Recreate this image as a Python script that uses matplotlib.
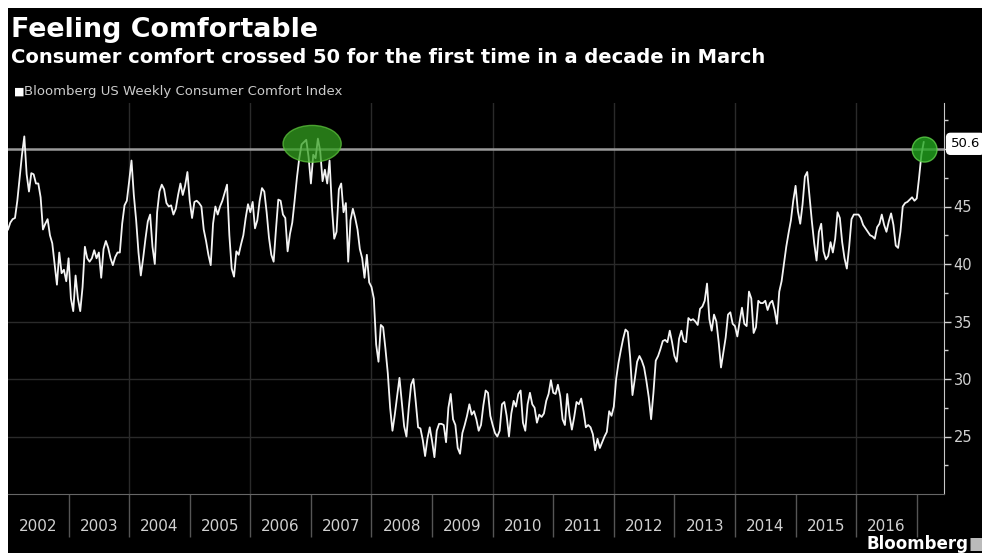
import numpy as np
import matplotlib
matplotlib.use('Agg')
import matplotlib.pyplot as plt
import matplotlib.transforms as mtransforms
from matplotlib.patches import Ellipse, Rectangle

# Bloomberg US Weekly Consumer Comfort Index, read every two weeks (26 per year) from Jan 2002
comfort = [
    # 2002
    43.0, 43.6, 43.9, 44.0, 45.5, 47.5, 49.5, 51.1, 47.8, 46.3, 47.9, 47.8, 47.0,
    47.0, 45.8, 43.0, 43.5, 43.9, 42.5, 41.8, 40.0, 38.2, 41.0, 39.2, 39.5, 38.5,
    # 2003
    40.5, 37.0, 35.9, 39.0, 37.0, 35.9, 38.0, 41.5, 40.5, 40.2, 40.5, 41.2, 40.5,
    41.0, 38.8, 41.3, 42.0, 41.4, 40.5, 39.9, 40.6, 41.0, 41.0, 43.5, 45.1, 45.5,
    # 2004
    47.2, 49.0, 46.0, 43.8, 41.0, 39.0, 40.5, 42.2, 43.7, 44.3, 41.5, 40.0, 44.5,
    46.3, 46.9, 46.5, 45.3, 45.0, 45.1, 44.3, 44.8, 46.0, 47.0, 46.0, 46.8, 48.0,
    # 2005
    45.5, 44.0, 45.4, 45.5, 45.3, 45.0, 43.0, 42.0, 40.8, 39.9, 43.5, 45.0, 44.3,
    45.0, 45.5, 46.2, 46.9, 42.5, 39.6, 38.9, 41.1, 40.8, 41.7, 42.5, 44.0, 45.2,
    # 2006
    44.5, 45.4, 43.1, 43.8, 45.5, 46.6, 46.3, 44.5, 42.3, 40.8, 40.2, 43.0, 45.6,
    45.5, 44.3, 44.0, 41.1, 42.6, 43.6, 45.5, 47.5, 49.2, 50.4, 50.6, 50.8, 49.3,
    # 2007
    47.0, 49.5, 49.2, 50.9, 49.8, 47.2, 48.2, 47.0, 49.0, 45.0, 42.2, 42.8, 46.5,
    47.0, 44.5, 45.3, 40.2, 43.8, 44.8, 44.0, 43.0, 41.3, 40.5, 38.8, 40.8, 38.4,
    # 2008
    38.0, 37.0, 33.0, 31.5, 34.7, 34.5, 32.6, 30.5, 27.5, 25.5, 26.9, 28.5, 30.1,
    28.0, 25.9, 25.0, 27.5, 29.5, 30.0, 28.0, 25.8, 25.7, 24.7, 23.3, 24.8, 25.8,
    # 2009
    24.6, 23.2, 25.5, 26.1, 26.1, 26.0, 24.5, 27.5, 28.7, 26.5, 26.0, 24.0, 23.5,
    25.3, 26.0, 26.8, 27.8, 26.9, 27.2, 26.5, 25.5, 26.0, 27.7, 29.0, 28.8, 26.8,
    # 2010
    26.0, 25.3, 25.0, 25.5, 27.8, 28.0, 26.8, 25.0, 27.0, 28.1, 27.6, 28.7, 29.0,
    26.2, 25.5, 27.8, 28.8, 27.8, 27.5, 26.2, 26.9, 26.7, 27.0, 28.1, 28.7, 29.9,
    # 2011
    28.8, 28.7, 29.5, 28.5, 26.5, 26.0, 28.7, 26.8, 25.6, 26.7, 28.0, 27.8, 28.3,
    27.2, 25.8, 26.0, 25.8, 25.2, 23.8, 24.8, 24.0, 24.5, 25.0, 25.4, 27.2, 26.8,
    # 2012
    27.6, 30.0, 31.4, 32.5, 33.5, 34.3, 34.1, 31.9, 28.6, 30.0, 31.5, 32.0, 31.6,
    31.0, 29.8, 28.4, 26.5, 28.8, 31.6, 32.0, 32.6, 33.3, 33.4, 33.2, 34.2, 33.2,
    # 2013
    32.0, 31.5, 33.5, 34.2, 33.3, 33.2, 35.3, 35.1, 35.2, 35.0, 34.7, 36.1, 36.3,
    36.8, 38.3, 35.2, 34.2, 35.6, 35.0, 33.2, 31.0, 32.3, 33.6, 35.6, 35.8, 34.8,
    # 2014
    34.6, 33.7, 35.0, 36.2, 34.8, 34.6, 37.6, 37.0, 34.0, 34.5, 36.8, 36.6, 36.6,
    36.8, 36.0, 36.6, 36.8, 36.0, 34.8, 37.6, 38.5, 40.0, 41.5, 42.7, 43.8, 45.5,
    # 2015
    46.8, 44.6, 43.5, 45.2, 47.6, 48.0, 45.8, 43.7, 41.8, 40.3, 42.8, 43.5, 41.1,
    40.4, 40.7, 41.9, 41.0, 42.2, 44.5, 44.0, 41.9, 40.5, 39.6, 41.5, 43.9, 44.3,
    # 2016
    44.3, 44.3, 44.0, 43.4, 43.1, 42.8, 42.5, 42.4, 42.2, 43.2, 43.5, 44.3, 43.4,
    42.8, 43.7, 44.4, 43.4, 41.6, 41.4, 42.8, 45.0, 45.3, 45.4, 45.6, 45.8, 45.5,
    # 2017
    45.7, 47.5, 49.5, 50.6,
]
years = list(range(2002, 2017))
year_labels = [str(y) for y in years]
y_ticks = [25, 30, 35, 40, 45, 50]
y_labels = ['25', '30', '35', '40', '45', '']  # 50 sits under the last-value tag
last_value = comfort[-1]

x = 2002 + np.arange(len(comfort)) / 26.0

W, H = 982, 553
fig = plt.figure(figsize=(W / 100, H / 100), dpi=100, facecolor='white')
fig.patches.append(Rectangle((8 / W, 0), 1 - 8 / W, 1 - 8 / H, transform=fig.transFigure,
                             facecolor='black', edgecolor='none', zorder=-10))

ax = fig.add_axes([8 / W, 1 - 494 / H, (944 - 8) / W, (494 - 103) / H])
ax.set_facecolor('black')
ax.set_xlim(2002, 2017.45)
ax.set_ylim(20, 54)

# grid
for yv in y_ticks[:-1]:
    ax.axhline(yv, color='#2a2a2a', lw=1, zorder=1)
for yr in range(2004, 2017, 2):
    ax.axvline(yr, color='#2a2a2a', lw=1, zorder=1)
ax.axhline(50, color='#9a9a9a', lw=1.8, zorder=2)

ax.plot(x, comfort, color='#f4f4f4', lw=1.3, zorder=3)

# green highlights
ax.add_patch(Ellipse((2007.02, 50.45), 0.96, 3.2, facecolor='#34a020', edgecolor='#5cc23c',
                     lw=1, alpha=0.75, zorder=4))
ax.add_patch(Ellipse((2017.13, 49.95), 0.41, 2.17, facecolor='#22a51f', edgecolor='#5fd04a',
                     lw=1, alpha=0.8, zorder=4))

# right y axis
ax.yaxis.tick_right()
ax.set_yticks(y_ticks)
ax.set_yticklabels(y_labels)
ax.set_yticks(np.arange(22.5, 54, 5), minor=True)
ax.tick_params(axis='y', which='major', colors='#d0d0d0', length=5, width=1, pad=2, labelsize=10.5)
ax.tick_params(axis='y', which='minor', colors='#d0d0d0', length=3, width=1)

# x axis: year labels between separators
ax.set_xticks([y + 0.5 for y in years])
ax.set_xticklabels(year_labels)
ax.set_xticks(range(2003, 2018), minor=True)
ax.tick_params(axis='x', which='major', length=0, pad=18, colors='#d0d0d0', labelsize=11)
ax.tick_params(axis='x', which='minor', length=31, width=1, color='#555555')

for side in ['top', 'left']:
    ax.spines[side].set_visible(False)
ax.spines['bottom'].set_color('#666666')
ax.spines['right'].set_color('#c8c8c8')

# last value tag
trans = mtransforms.blended_transform_factory(ax.transAxes, ax.transData)
ax.text(1.007, last_value - 0.15, f'{last_value:.1f}', transform=trans, ha='left', va='center',
        fontsize=9.5, color='black', clip_on=False, zorder=10,
        bbox=dict(boxstyle='round,pad=0.3', facecolor='white', edgecolor='white'))

# titles
fig.text(11 / W, 1 - 37 / H, 'Feeling Comfortable', fontsize=19.4, fontweight='bold',
         color='white', va='baseline')
fig.text(11 / W, 1 - 63 / H, 'Consumer comfort crossed 50 for the first time in a decade in March',
         fontsize=14, fontweight='bold', color='white', va='baseline')
fig.text(14 / W, 1 - 95 / H, '\u25a0', fontsize=8, color='white', va='baseline')
fig.text(24 / W, 1 - 95 / H, 'Bloomberg US Weekly Consumer Comfort Index', fontsize=9.5,
         color='#cccccc', va='baseline')
fig.text(866 / W, 1 - 549 / H, 'Bloomberg', fontsize=12, fontweight='bold', color='white',
         va='baseline')
fig.text(968 / W, 1 - 549 / H, '\u25a0', fontsize=12, color='#bbbbbb', va='baseline')

fig.savefig('out.png', dpi=100, facecolor=fig.get_facecolor())
